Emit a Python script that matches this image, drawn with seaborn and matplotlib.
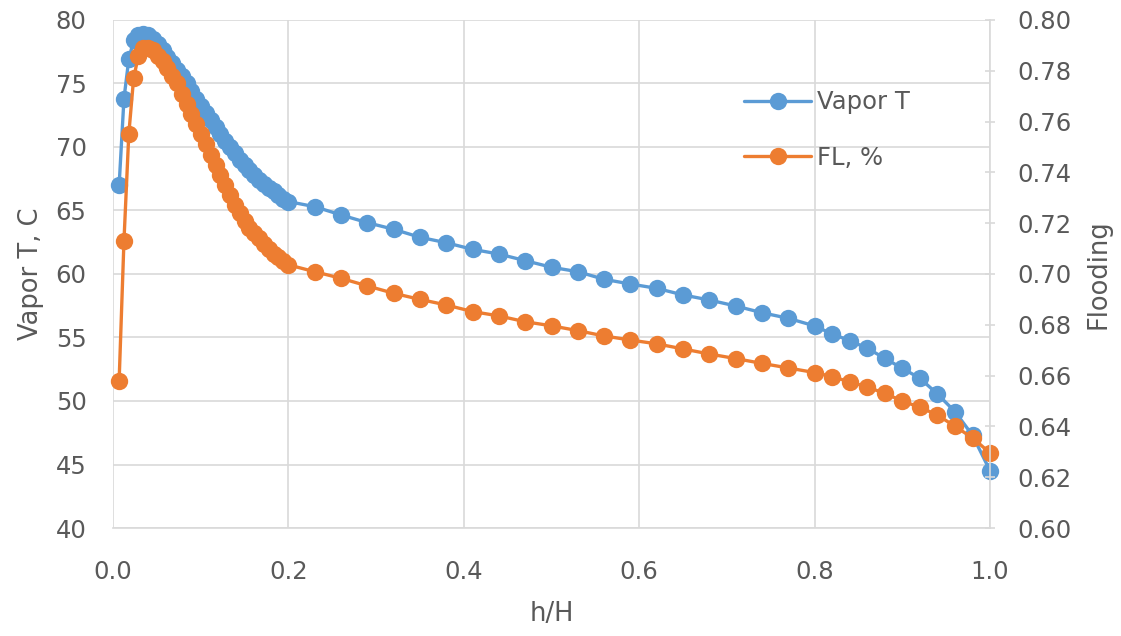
import matplotlib
matplotlib.use("Agg")
import matplotlib.pyplot as plt
import seaborn as sns
import pandas as pd

# ---- data ----
h_over_H = [0.007, 0.0125, 0.018, 0.0235, 0.029, 0.0345, 0.040, 0.0455, 0.051, 0.0565,
            0.062, 0.0675, 0.073, 0.0785, 0.084, 0.0895, 0.095, 0.1005, 0.106, 0.1115,
            0.117, 0.1225, 0.128, 0.1335, 0.139, 0.1445, 0.150, 0.1555, 0.161, 0.1665,
            0.172, 0.1775, 0.183, 0.1885, 0.194, 0.200,
            0.23, 0.26, 0.29, 0.32, 0.35, 0.38, 0.41, 0.44, 0.47, 0.50,
            0.53, 0.56, 0.59, 0.62, 0.65, 0.68, 0.71, 0.74, 0.77, 0.80,
            0.82, 0.84, 0.86, 0.88, 0.90, 0.92, 0.94, 0.96, 0.98, 1.00]

vapor_T = [67.0, 73.8, 76.9, 78.4, 78.8, 78.9, 78.8, 78.5, 78.1, 77.6,
           77.1, 76.6, 76.1, 75.6, 75.0, 74.4, 73.8, 73.2, 72.7, 72.1,
           71.6, 71.0, 70.5, 70.0, 69.5, 69.0, 68.6, 68.2, 67.8, 67.4,
           67.1, 66.8, 66.5, 66.2, 65.9, 65.7,
           65.3, 64.65, 64.04, 63.52, 62.89, 62.46, 61.94, 61.57, 61.05, 60.53,
           60.18, 59.58, 59.21, 58.87, 58.35, 57.95, 57.48, 56.95, 56.51, 55.91,
           55.28, 54.75, 54.15, 53.36, 52.57, 51.79, 50.55, 49.16, 47.3, 44.5]

flooding = [0.658, 0.713, 0.755, 0.777, 0.786, 0.789, 0.789, 0.788, 0.786, 0.784,
            0.781, 0.778, 0.775, 0.771, 0.767, 0.763, 0.759, 0.755, 0.751, 0.747,
            0.743, 0.739, 0.735, 0.731, 0.727, 0.724, 0.721, 0.718, 0.716, 0.714,
            0.712, 0.710, 0.708, 0.7065, 0.705, 0.7036,
            0.7009, 0.6983, 0.6953, 0.6924, 0.6900, 0.6878, 0.6852, 0.6835, 0.6812, 0.6796,
            0.6777, 0.6756, 0.6740, 0.6725, 0.6705, 0.6685, 0.6667, 0.6648, 0.6630, 0.6612,
            0.6596, 0.6575, 0.6555, 0.6530, 0.6500, 0.6475, 0.6445, 0.6400, 0.6355, 0.6295]

x_ticks = [0.0, 0.2, 0.4, 0.6, 0.8, 1.0]
left_ticks = [40, 45, 50, 55, 60, 65, 70, 75, 80]
right_ticks = [0.60, 0.62, 0.64, 0.66, 0.68, 0.70, 0.72, 0.74, 0.76, 0.78, 0.80]

series_names = ["Vapor T", "FL, %"]

df = pd.DataFrame({"h/H": h_over_H, "Vapor T": vapor_T, "Flooding": flooding})

# ---- style ----
sns.set_theme(style="white")
plt.rcParams["font.family"] = ["DejaVu Sans"]

BLUE = "#5B9BD5"
ORANGE = "#ED7D31"
TXT = "#595959"
GRID = "#D9D9D9"
FS = 17.5

fig = plt.figure(figsize=(11.21, 6.36), dpi=100, facecolor="white")
ax = fig.add_axes([0.1008, 0.1698, 0.7824, 0.7988])
ax2 = ax.twinx()

sns.lineplot(data=df, x="h/H", y="Vapor T", ax=ax, color=BLUE, marker="o",
             markersize=12.5, markeredgewidth=0, linewidth=2.4, label=series_names[0],
             legend=False, clip_on=False)
sns.lineplot(data=df, x="h/H", y="Flooding", ax=ax2, color=ORANGE, marker="o",
             markersize=12.5, markeredgewidth=0, linewidth=2.4, label=series_names[1],
             legend=False, clip_on=False)

ax.set_xlim(0, 1.0)
ax.set_ylim(40, 80)
ax2.set_ylim(0.60, 0.80)
ax.set_xticks(x_ticks)
ax.set_xticklabels([f"{v:.1f}" for v in x_ticks])
ax.set_yticks(left_ticks)
ax.set_yticklabels([str(v) for v in left_ticks])
ax2.set_yticks(right_ticks)
ax2.set_yticklabels([f"{v:.2f}" for v in right_ticks])

ax.grid(True, color=GRID, linewidth=1.2)
ax.set_axisbelow(True)

for a in (ax, ax2):
    for s in a.spines.values():
        s.set_visible(False)
ax.spines["bottom"].set_visible(True)
ax.spines["bottom"].set_color(GRID)
ax.spines["bottom"].set_linewidth(1.2)
ax2.spines["right"].set_visible(True)
ax2.spines["right"].set_color(GRID)
ax2.spines["right"].set_linewidth(1.2)

ax.tick_params(axis="x", length=0, pad=23, labelsize=FS, labelcolor=TXT)
ax.tick_params(axis="y", length=0, pad=19, labelsize=FS, labelcolor=TXT)
ax2.tick_params(axis="y", direction="inout", length=7, width=1.2, color=GRID,
                pad=16, labelsize=FS, labelcolor=TXT)

ax.set_xlabel("h/H", fontsize=FS + 1, color=TXT, labelpad=12)
ax.set_ylabel("Vapor T, C", fontsize=FS + 1, color=TXT, labelpad=8)
ax2.set_ylabel("Flooding", fontsize=FS + 1, color=TXT, labelpad=10)

h1, l1 = ax.get_legend_handles_labels()
h2, l2 = ax2.get_legend_handles_labels()
leg = ax2.legend(h1 + h2, l1 + l2, loc="upper left", bbox_to_anchor=(0.72, 0.862),
                 frameon=False, fontsize=FS, handlelength=2.75, handletextpad=0.25,
                 labelspacing=1.3, borderpad=0, borderaxespad=0)
for t in leg.get_texts():
    t.set_color(TXT)

fig.savefig("out.png", dpi=100, facecolor="white")
